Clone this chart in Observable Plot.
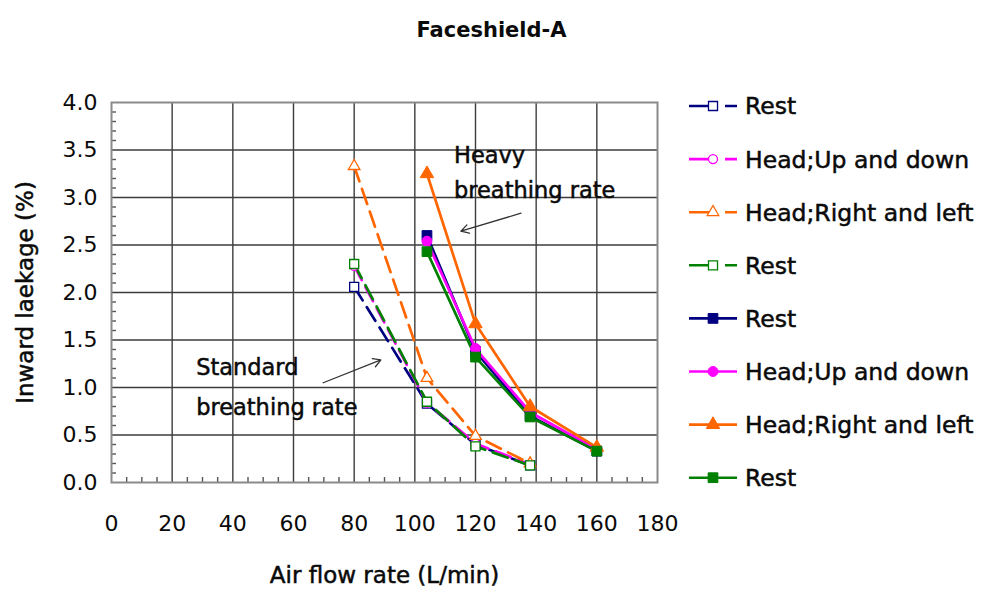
<!DOCTYPE html>
<html><head><meta charset="utf-8">
<script src="https://cdn.jsdelivr.net/npm/d3@7"></script>
<script src="https://cdn.jsdelivr.net/npm/@observablehq/plot@0.6"></script>
<style>body{margin:0;background:#fff;} svg{display:block}</style>
</head><body><div id="chart"></div>
<script>
// ---- data ----
const xStandard = [80, 104, 120, 138];
const xHeavy = [104, 120, 138, 160];
const seriesNames = ["Rest", "Head;Up and down", "Head;Right and left", "Rest", "Rest", "Head;Up and down", "Head;Right and left", "Rest"];
const seriesColors = ["#000080", "#ff00ff", "#ff6600", "#008000", "#000080", "#ff00ff", "#ff6600", "#008000"];
const seriesSymbols = ["square", "circle", "triangle", "square", "square", "circle", "triangle", "square"];
const seriesFilled = [false, false, false, false, true, true, true, true];
const stdRestA = [2.06, 0.83, 0.40, 0.18];
const stdUpDown = [2.28, 0.84, 0.41, 0.19];
const stdRightLeft = [3.33, 1.10, 0.49, 0.20];
const stdRestB = [2.30, 0.85, 0.38, 0.18];
const heavyRestA = [2.60, 1.38, 0.70, 0.33];
const heavyUpDown = [2.54, 1.41, 0.74, 0.35];
const heavyRightLeft = [3.25, 1.67, 0.80, 0.37];
const heavyRestB = [2.43, 1.32, 0.69, 0.33];
const xTicks = [0, 20, 40, 60, 80, 100, 120, 140, 160, 180];
const yTicks = [0, 0.5, 1, 1.5, 2, 2.5, 3, 3.5, 4];
const annLabels = ["Heavy", "breathing rate", "Standard", "breathing rate"];
const annX = [112.9, 112.9, 27.9, 27.9];
const annY = [3.44, 3.07, 1.21, 0.79];
const arrowX1 = [135.0, 69.8];
const arrowY1 = [2.835, 1.05];
const arrowX2 = [115.2, 88.8];
const arrowY2 = [2.645, 1.29];

const seriesValues = [stdRestA, stdUpDown, stdRightLeft, stdRestB, heavyRestA, heavyUpDown, heavyRightLeft, heavyRestB];
const rows = [];
seriesValues.forEach((vals, i) => {
  const xs = i < 4 ? xStandard : xHeavy;
  vals.forEach((v, j) => rows.push({s: i, x: xs[j], y: v}));
});
const minorX = d3.range(5, 180, 5).filter(v => v % 20 !== 0);
const minorY = d3.range(1, 40).map(v => v / 10).filter(v => Math.round(v * 10) % 5 !== 0);
const annRows = annLabels.map((t, i) => ({t, x: annX[i], y: annY[i]}));
const arrowRows = arrowX1.map((v, i) => ({x1: v, y1: arrowY1[i], x2: arrowX2[i], y2: arrowY2[i]}));

const symbolR = {square: 5.1, circle: 4.5, triangle: 4.3};
const symbolRFilled = {square: 5.5, circle: 5.0, triangle: 5.0};

const W = 982, H = 589, ML = 111, MR = 325, MT = 102, MB = 107;
const font = "DejaVu Sans, Verdana, sans-serif";
const ink = "#0a0a0a";
const heavyInk = {fill: ink, stroke: ink, strokeWidth: 0.5};

const marks = [
  Plot.gridX(xTicks.slice(1, -1), {stroke: "#3c3c3c", strokeOpacity: 1, strokeWidth: 1.4}),
  Plot.gridY(yTicks.slice(1, -1), {stroke: "#3c3c3c", strokeOpacity: 1, strokeWidth: 1.4}),
  Plot.tickX(minorX, {x: d => d, stroke: "#555", strokeWidth: 1.4, insetTop: H - MT - MB - 5}),
  Plot.tickY(minorY, {y: d => d, stroke: "#555", strokeWidth: 1.4, insetRight: W - ML - MR - 5}),
  Plot.frame({stroke: "#8a8a8a", strokeWidth: 2}),
];
seriesValues.forEach((_, i) => {
  marks.push(Plot.line(rows.filter(r => r.s === i), {
    x: "x", y: "y", stroke: seriesColors[i], strokeWidth: 2.7,
    strokeDasharray: seriesFilled[i] ? null : "16,8"
  }));
});
seriesValues.forEach((_, i) => {
  const sym = seriesSymbols[i];
  marks.push(Plot.dot(rows.filter(r => r.s === i), {
    x: "x", y: "y", symbol: sym,
    r: seriesFilled[i] ? symbolRFilled[sym] : symbolR[sym],
    fill: seriesFilled[i] ? seriesColors[i] : "white",
    stroke: seriesColors[i], strokeWidth: seriesFilled[i] ? 1 : 1.3
  }));
});
marks.push(
  Plot.text(annRows, {x: "x", y: "y", text: "t", textAnchor: "start", fontSize: 22.5, ...heavyInk}),
  Plot.arrow(arrowRows, {x1: "x1", y1: "y1", x2: "x2", y2: "y2", stroke: "#333", strokeWidth: 1.3, headLength: 10}),
  Plot.axisX({ticks: xTicks, tickSize: 0, tickPadding: 33, fontSize: 22, label: null, ...heavyInk}),
  Plot.axisY({ticks: yTicks, tickSize: 0, tickPadding: 14, fontSize: 22, label: null, tickFormat: d3.format(".1f"), ...heavyInk}),
  Plot.text(["Air flow rate (L/min)"], {frameAnchor: "bottom", dy: 100, textAnchor: "middle", fontSize: 23, ...heavyInk}),
  Plot.text(["Inward laekage (%)"], {frameAnchor: "left", rotate: -90, dx: -86, textAnchor: "middle", fontSize: 23, ...heavyInk}),
  Plot.text(["Faceshield-A"], {frameAnchor: "top", dx: 107, dy: -80, textAnchor: "middle", fontSize: 21, fontWeight: "bold", fill: ink})
);

const svg = Plot.plot({
  width: W, height: H,
  marginLeft: ML, marginRight: MR, marginTop: MT, marginBottom: MB,
  x: {domain: [0, 180]},
  y: {domain: [0, 4]},
  style: {fontFamily: font, background: "white", color: ink, overflow: "visible"},
  marks
});

// legend
const leg = d3.select(svg).append("g").attr("font-family", font).attr("text-anchor", "start");
seriesNames.forEach((name, i) => {
  const cy = 106 + i * 53.1;
  const g = leg.append("g");
  g.append("line").attr("x1", 689).attr("x2", 737).attr("y1", cy).attr("y2", cy)
    .attr("stroke", seriesColors[i]).attr("stroke-width", 2.6)
    .attr("stroke-dasharray", seriesFilled[i] ? null : "26,10");
  const sym = seriesSymbols[i];
  const r = seriesFilled[i] ? symbolRFilled[sym] : symbolR[sym];
  const type = sym === "square" ? d3.symbolSquare : sym === "circle" ? d3.symbolCircle : d3.symbolTriangle;
  g.append("path").attr("transform", `translate(713,${cy})`)
    .attr("d", d3.symbol(type, Math.PI * r * r)())
    .attr("fill", seriesFilled[i] ? seriesColors[i] : "white")
    .attr("stroke", seriesColors[i]).attr("stroke-width", seriesFilled[i] ? 1 : 1.3);
  g.append("text").attr("x", 745).attr("y", cy).attr("dy", "0.36em")
    .attr("text-anchor", "start")
    .attr("font-size", 23.5).attr("fill", ink)
    .attr("stroke", ink).attr("stroke-width", 0.5).attr("paint-order", "stroke")
    .text(name);
});

document.getElementById("chart").appendChild(svg);
</script>
</body></html>
